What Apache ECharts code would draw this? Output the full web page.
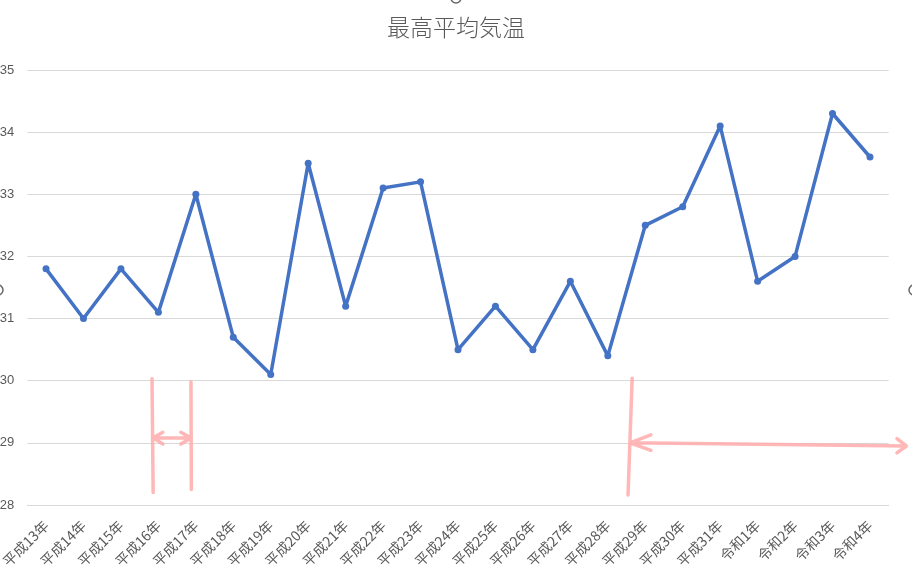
<!DOCTYPE html>
<html><head><meta charset="utf-8">
<script src="https://cdn.jsdelivr.net/npm/echarts@6/dist/echarts.min.js"></script>
<style>html,body{margin:0;padding:0;background:#fff}#c{width:912px;height:578px}</style>
</head><body><div id="c"></div>
<script>
const titleText = '最高平均気温';
const categories = ['平成13年','平成14年','平成15年','平成16年','平成17年','平成18年','平成19年','平成20年','平成21年','平成22年','平成23年','平成24年','平成25年','平成26年','平成27年','平成28年','平成29年','平成30年','平成31年','令和1年','令和2年','令和3年','令和4年'];
const temps = [31.8,31.0,31.8,31.1,33.0,30.7,30.1,33.5,31.2,33.1,33.2,30.5,31.2,30.5,31.6,30.4,32.5,32.8,34.1,31.6,32.0,34.3,33.6];
const yTicks = [28,29,30,31,32,33,34,35];
// hand-drawn pink annotation strokes, in data units (category index, temperature); null separates strokes
const annotLeft = [
  [2.83,30.03],[2.86,28.2],null,
  [3.87,29.98],[3.88,28.25],null,
  [2.86,29.08],[3.87,29.08],null,
  [3.12,29.17],[2.86,29.08],[3.12,28.98],null,
  [3.60,29.17],[3.87,29.08],[3.60,28.98]
];
const annotRight = [
  [15.65,30.04],[15.54,28.16],null,
  [15.59,29.00],[22.97,28.95],null,
  [16.15,29.13],[15.59,29.00],[16.15,28.88],null,
  [22.72,29.07],[22.97,28.95],[22.72,28.84]
];
</script>
<script>
const chart = echarts.init(document.getElementById('c'));
const font = '"Noto Sans CJK JP","Noto Sans",sans-serif';
const W = 912, GL = 27.3, GR = 23.3, GT = 70, GB = 73;
const unit = (W - GL - GR) / categories.length;
const annMax = -0.5 + (W - GL) / unit;
const annStyle = {
  type:'line', xAxisIndex:1, yAxisIndex:1, symbol:'none', clip:false, connectNulls:false,
  lineStyle:{color:'rgba(255,170,170,0.85)', width:3.5, cap:'round', join:'round'},
  silent:true, z:1, animation:false
};
chart.setOption({
  animation:false,
  textStyle:{fontFamily:font},
  title:{text:titleText, left:'center', top:11, textStyle:{fontFamily:font, fontSize:23, fontWeight:300, color:'#595959'}},
  grid:[
    {left:GL, right:GR, top:GT, bottom:GB, containLabel:false, outerBoundsMode:'none'},
    {left:GL, right:0, top:GT, bottom:GB, containLabel:false, outerBoundsMode:'none', show:false}
  ],
  xAxis:[
    {type:'category', data:categories, boundaryGap:true, gridIndex:0,
     axisLine:{show:true, lineStyle:{color:'#d9d9d9'}}, axisTick:{show:false},
     axisLabel:{rotate:45, fontSize:14, color:'#595959', margin:18, interval:0, fontFamily:font}},
    {type:'value', gridIndex:1, min:-0.5, max:annMax, show:false}
  ],
  yAxis:[
    {type:'value', gridIndex:0, min:yTicks[0], max:yTicks[yTicks.length-1], interval:1,
     axisLine:{show:false}, axisTick:{show:false},
     splitLine:{lineStyle:{color:'#d9d9d9'}},
     axisLabel:{fontSize:13, color:'#595959', margin:13, fontFamily:'"Liberation Sans",sans-serif'}},
    {type:'value', gridIndex:1, min:yTicks[0], max:yTicks[yTicks.length-1], show:false}
  ],
  graphic:[
    {type:'circle', shape:{cx:456, cy:-2, r:5}, style:{fill:'#fff', stroke:'#666', lineWidth:1.5}},
    {type:'circle', shape:{cx:-2, cy:290, r:5}, style:{fill:'#fff', stroke:'#666', lineWidth:1.5}},
    {type:'circle', shape:{cx:914, cy:290, r:5}, style:{fill:'#fff', stroke:'#666', lineWidth:1.5}}
  ],
  series:[
    Object.assign({data:annotLeft}, annStyle),
    Object.assign({data:annotRight}, annStyle),
    {type:'line', data:temps, xAxisIndex:0, yAxisIndex:0, symbol:'circle', symbolSize:7,
     lineStyle:{color:'#4472C4', width:3.5}, itemStyle:{color:'#4472C4'}, z:3}
  ]
});
</script></body></html>
